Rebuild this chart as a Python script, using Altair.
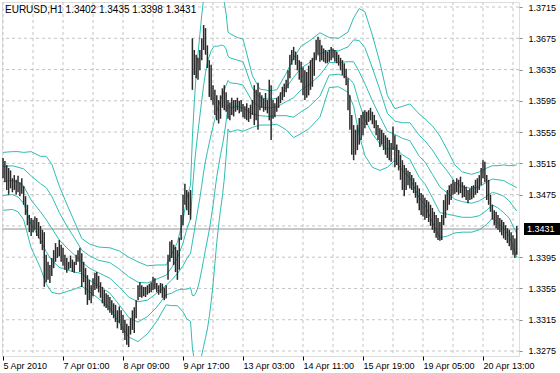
import altair as alt
import pandas as pd

# ---------------- data ----------------
high = [
    1.3522, 1.3518, 1.3513, 1.3509, 1.3506, 1.3496, 1.3500, 1.3494, 1.3499, 1.3491,
    1.3496, 1.3486, 1.3473, 1.3462, 1.3449, 1.3445, 1.3443, 1.3447, 1.3445, 1.3440,
    1.3435, 1.3430, 1.3427, 1.3398, 1.3389, 1.3385, 1.3394, 1.3404, 1.3413, 1.3408,
    1.3417, 1.3411, 1.3407, 1.3398, 1.3394, 1.3389, 1.3397, 1.3392, 1.3389, 1.3398,
    1.3404, 1.3407, 1.3400, 1.3389, 1.3381, 1.3372, 1.3366, 1.3359, 1.3368, 1.3375,
    1.3376, 1.3371, 1.3363, 1.3357, 1.3353, 1.3349, 1.3347, 1.3344, 1.3340, 1.3336,
    1.3334, 1.3327, 1.3332, 1.3327, 1.3321, 1.3315, 1.3310, 1.3307, 1.3317, 1.3327,
    1.3331, 1.3340, 1.3359, 1.3363, 1.3359, 1.3357, 1.3357, 1.3359, 1.3361, 1.3363,
    1.3370, 1.3368, 1.3362, 1.3359, 1.3362, 1.3361, 1.3356, 1.3359, 1.3398, 1.3415,
    1.3417, 1.3411, 1.3408, 1.3404, 1.3420, 1.3449, 1.3475, 1.3489, 1.3481, 1.3478,
    1.3481, 1.3675, 1.3660, 1.3654, 1.3650, 1.3660, 1.3675, 1.3692, 1.3688, 1.3666,
    1.3647, 1.3641, 1.3615, 1.3609, 1.3602, 1.3596, 1.3602, 1.3611, 1.3615, 1.3606,
    1.3596, 1.3593, 1.3599, 1.3596, 1.3596, 1.3599, 1.3595, 1.3596, 1.3591, 1.3588,
    1.3592, 1.3586, 1.3590, 1.3596, 1.3615, 1.3609, 1.3618, 1.3606, 1.3602, 1.3598,
    1.3605, 1.3596, 1.3622, 1.3615, 1.3596, 1.3592, 1.3599, 1.3601, 1.3606, 1.3613,
    1.3617, 1.3622, 1.3634, 1.3654, 1.3660, 1.3664, 1.3658, 1.3654, 1.3647, 1.3645,
    1.3638, 1.3634, 1.3632, 1.3640, 1.3647, 1.3650, 1.3657, 1.3673, 1.3677, 1.3673,
    1.3666, 1.3662, 1.3660, 1.3658, 1.3660, 1.3664, 1.3662, 1.3660, 1.3658, 1.3654,
    1.3650, 1.3647, 1.3643, 1.3636, 1.3624, 1.3602, 1.3577, 1.3564, 1.3558, 1.3564,
    1.3573, 1.3577, 1.3581, 1.3583, 1.3581, 1.3583, 1.3586, 1.3581, 1.3577, 1.3570,
    1.3564, 1.3560, 1.3558, 1.3554, 1.3551, 1.3548, 1.3545, 1.3541, 1.3562, 1.3551,
    1.3539, 1.3532, 1.3526, 1.3519, 1.3513, 1.3509, 1.3506, 1.3504, 1.3500, 1.3496,
    1.3491, 1.3487, 1.3483, 1.3477, 1.3475, 1.3471, 1.3468, 1.3466, 1.3462, 1.3458,
    1.3453, 1.3449, 1.3445, 1.3440, 1.3449, 1.3468, 1.3475, 1.3481, 1.3487, 1.3489,
    1.3494, 1.3491, 1.3496, 1.3494, 1.3498, 1.3491, 1.3487, 1.3485, 1.3481, 1.3483,
    1.3486, 1.3487, 1.3494, 1.3496, 1.3500, 1.3509, 1.3519, 1.3517, 1.3500, 1.3494,
    1.3475, 1.3462, 1.3455, 1.3453, 1.3449, 1.3445, 1.3443, 1.3440, 1.3436, 1.3432,
    1.3430, 1.3427, 1.3423, 1.3419, 1.3435,
]
low = [
    1.3496, 1.3491, 1.3481, 1.3475, 1.3483, 1.3478, 1.3481, 1.3475, 1.3478, 1.3473,
    1.3476, 1.3462, 1.3449, 1.3436, 1.3427, 1.3422, 1.3427, 1.3430, 1.3422, 1.3419,
    1.3412, 1.3404, 1.3357, 1.3363, 1.3366, 1.3362, 1.3371, 1.3381, 1.3389, 1.3394,
    1.3396, 1.3389, 1.3384, 1.3379, 1.3375, 1.3379, 1.3381, 1.3376, 1.3375, 1.3385,
    1.3389, 1.3376, 1.3357, 1.3363, 1.3347, 1.3334, 1.3340, 1.3336, 1.3345, 1.3353,
    1.3355, 1.3350, 1.3343, 1.3336, 1.3332, 1.3330, 1.3327, 1.3324, 1.3321, 1.3317,
    1.3312, 1.3304, 1.3311, 1.3302, 1.3298, 1.3289, 1.3283, 1.3280, 1.3296, 1.3302,
    1.3298, 1.3317, 1.3340, 1.3344, 1.3343, 1.3345, 1.3344, 1.3347, 1.3349, 1.3350,
    1.3353, 1.3354, 1.3350, 1.3347, 1.3349, 1.3343, 1.3340, 1.3342, 1.3366, 1.3389,
    1.3394, 1.3385, 1.3376, 1.3366, 1.3379, 1.3417, 1.3436, 1.3462, 1.3455, 1.3449,
    1.3443, 1.3609, 1.3628, 1.3624, 1.3622, 1.3634, 1.3647, 1.3660, 1.3654, 1.3637,
    1.3600, 1.3596, 1.3590, 1.3577, 1.3570, 1.3566, 1.3572, 1.3586, 1.3583, 1.3581,
    1.3572, 1.3570, 1.3577, 1.3575, 1.3581, 1.3583, 1.3579, 1.3581, 1.3574, 1.3572,
    1.3570, 1.3568, 1.3572, 1.3577, 1.3564, 1.3570, 1.3558, 1.3583, 1.3586, 1.3581,
    1.3583, 1.3579, 1.3570, 1.3545, 1.3572, 1.3574, 1.3581, 1.3586, 1.3592, 1.3596,
    1.3600, 1.3606, 1.3611, 1.3624, 1.3641, 1.3647, 1.3641, 1.3634, 1.3622, 1.3618,
    1.3602, 1.3596, 1.3599, 1.3602, 1.3609, 1.3613, 1.3627, 1.3647, 1.3654, 1.3645,
    1.3647, 1.3645, 1.3643, 1.3643, 1.3645, 1.3647, 1.3650, 1.3645, 1.3643, 1.3640,
    1.3634, 1.3628, 1.3624, 1.3615, 1.3583, 1.3558, 1.3526, 1.3519, 1.3526, 1.3532,
    1.3539, 1.3545, 1.3551, 1.3560, 1.3564, 1.3568, 1.3570, 1.3565, 1.3560, 1.3551,
    1.3545, 1.3536, 1.3539, 1.3532, 1.3526, 1.3522, 1.3519, 1.3517, 1.3532, 1.3510,
    1.3513, 1.3506, 1.3494, 1.3481, 1.3473, 1.3481, 1.3487, 1.3483, 1.3481, 1.3477,
    1.3471, 1.3464, 1.3455, 1.3449, 1.3447, 1.3443, 1.3445, 1.3440, 1.3435, 1.3430,
    1.3426, 1.3420, 1.3417, 1.3416, 1.3417, 1.3436, 1.3445, 1.3455, 1.3462, 1.3468,
    1.3475, 1.3476, 1.3478, 1.3475, 1.3477, 1.3471, 1.3472, 1.3468, 1.3464, 1.3468,
    1.3469, 1.3471, 1.3475, 1.3477, 1.3481, 1.3487, 1.3496, 1.3491, 1.3468, 1.3462,
    1.3453, 1.3443, 1.3436, 1.3432, 1.3430, 1.3427, 1.3423, 1.3419, 1.3417, 1.3413,
    1.3409, 1.3404, 1.3398, 1.3394, 1.3398,
]

band_idx = [
    0, 5, 8, 11, 15, 20, 23, 26, 30, 34, 38, 42, 46, 51, 57, 62, 67, 72, 77, 82,
    87, 90, 93, 96, 98, 100,
    101, 102, 103, 104, 105, 106, 107, 108, 109, 110, 111, 112, 113, 114, 115, 116,
    117, 118, 119, 120, 121,
    125, 128, 133, 137, 142, 146, 151, 155, 159, 163, 169,
    174, 179, 184, 187, 190, 193, 197, 201, 205, 209, 213, 217, 222, 225, 229, 233,
    237, 241, 245, 250, 254, 258, 261, 264, 267, 270, 274,
]
upper2 = [
    1.3529, 1.3530, 1.3530, 1.3529, 1.3530, 1.3524, 1.3524, 1.3514, 1.3486, 1.3463,
    1.3441, 1.3419, 1.3412, 1.3408, 1.3407, 1.3403, 1.3395, 1.3389, 1.3384, 1.3385,
    1.3385, 1.3399, 1.3414, 1.3443, 1.3470, 1.3487,
    1.3548, 1.3593, 1.3628, 1.3655, 1.3680, 1.3705, 1.3726, 1.3744, 1.3757, 1.3763,
    1.3766, 1.3764, 1.3757, 1.3749, 1.3742, 1.3736, 1.3731, 1.3721, 1.3706, 1.3683,
    1.3681,
    1.3676, 1.3674, 1.3627, 1.3610, 1.3608, 1.3609, 1.3630, 1.3650, 1.3665, 1.3671,
    1.3682,
    1.3676, 1.3675, 1.3683, 1.3701, 1.3713, 1.3709, 1.3679, 1.3644, 1.3602, 1.3585,
    1.3588, 1.3591, 1.3578, 1.3572, 1.3563, 1.3550, 1.3532, 1.3513, 1.3504, 1.3501,
    1.3504, 1.3509, 1.3512, 1.3512, 1.3513, 1.3512, 1.3513,
]
upper1 = [
    1.3511, 1.3512, 1.3510, 1.3508, 1.3499, 1.3489, 1.3484, 1.3473, 1.3452, 1.3435,
    1.3420, 1.3404, 1.3397, 1.3391, 1.3388, 1.3380, 1.3370, 1.3363, 1.3362, 1.3367,
    1.3372, 1.3382, 1.3394, 1.3413, 1.3431, 1.3444,
    1.3481, 1.3511, 1.3535, 1.3556, 1.3576, 1.3596, 1.3615, 1.3631, 1.3644, 1.3652,
    1.3659, 1.3663, 1.3665, 1.3665, 1.3665, 1.3666, 1.3666, 1.3665, 1.3661, 1.3652,
    1.3650,
    1.3647, 1.3645, 1.3611, 1.3599, 1.3597, 1.3598, 1.3612, 1.3625, 1.3637, 1.3643,
    1.3655,
    1.3660, 1.3659, 1.3664, 1.3673, 1.3672, 1.3663, 1.3637, 1.3609, 1.3579, 1.3569,
    1.3567, 1.3567, 1.3551, 1.3544, 1.3532, 1.3517, 1.3505, 1.3491, 1.3485, 1.3483,
    1.3485, 1.3491, 1.3495, 1.3494, 1.3493, 1.3489, 1.3484,
]
middle = [
    1.3492, 1.3493, 1.3491, 1.3486, 1.3468, 1.3453, 1.3443, 1.3432, 1.3417, 1.3407,
    1.3398, 1.3389, 1.3381, 1.3375, 1.3368, 1.3357, 1.3344, 1.3338, 1.3340, 1.3349,
    1.3359, 1.3366, 1.3374, 1.3384, 1.3393, 1.3400,
    1.3414, 1.3428, 1.3443, 1.3457, 1.3471, 1.3487, 1.3504, 1.3518, 1.3530, 1.3541,
    1.3552, 1.3562, 1.3572, 1.3582, 1.3589, 1.3596, 1.3602, 1.3608, 1.3615, 1.3621,
    1.3618,
    1.3617, 1.3615, 1.3594, 1.3587, 1.3586, 1.3587, 1.3594, 1.3599, 1.3609, 1.3615,
    1.3628,
    1.3644, 1.3644, 1.3645, 1.3645, 1.3632, 1.3617, 1.3595, 1.3575, 1.3556, 1.3552,
    1.3547, 1.3544, 1.3524, 1.3517, 1.3501, 1.3485, 1.3477, 1.3469, 1.3466, 1.3464,
    1.3467, 1.3473, 1.3478, 1.3476, 1.3473, 1.3467, 1.3454,
]
lower1 = [
    1.3474, 1.3475, 1.3472, 1.3464, 1.3437, 1.3417, 1.3402, 1.3391, 1.3382, 1.3379,
    1.3376, 1.3374, 1.3366, 1.3358, 1.3349, 1.3334, 1.3318, 1.3312, 1.3319, 1.3331,
    1.3347, 1.3349, 1.3353, 1.3354, 1.3354, 1.3356,
    1.3346, 1.3346, 1.3350, 1.3357, 1.3367, 1.3379, 1.3392, 1.3405, 1.3417, 1.3430,
    1.3445, 1.3461, 1.3480, 1.3498, 1.3512, 1.3526, 1.3538, 1.3552, 1.3569, 1.3590,
    1.3586,
    1.3588, 1.3586, 1.3578, 1.3576, 1.3575, 1.3576, 1.3576, 1.3574, 1.3581, 1.3587,
    1.3601,
    1.3628, 1.3629, 1.3625, 1.3617, 1.3592, 1.3571, 1.3553, 1.3540, 1.3533, 1.3535,
    1.3526, 1.3520, 1.3497, 1.3489, 1.3471, 1.3452, 1.3450, 1.3448, 1.3446, 1.3446,
    1.3448, 1.3455, 1.3462, 1.3458, 1.3452, 1.3445, 1.3425,
]
lower2 = [
    1.3455, 1.3456, 1.3453, 1.3443, 1.3407, 1.3381, 1.3361, 1.3350, 1.3348, 1.3351,
    1.3354, 1.3358, 1.3351, 1.3342, 1.3330, 1.3311, 1.3293, 1.3287, 1.3297, 1.3313,
    1.3334, 1.3333, 1.3333, 1.3325, 1.3316, 1.3313,
    1.3279, 1.3263, 1.3258, 1.3258, 1.3262, 1.3270, 1.3281, 1.3292, 1.3303, 1.3319,
    1.3338, 1.3360, 1.3387, 1.3414, 1.3436, 1.3456, 1.3473, 1.3495, 1.3524, 1.3559,
    1.3555,
    1.3558, 1.3556, 1.3561, 1.3564, 1.3564, 1.3565, 1.3558, 1.3548, 1.3553, 1.3559,
    1.3574,
    1.3612, 1.3613, 1.3606, 1.3588, 1.3551, 1.3525, 1.3510, 1.3506, 1.3510, 1.3519,
    1.3506, 1.3496, 1.3471, 1.3462, 1.3440, 1.3420, 1.3422, 1.3426, 1.3427, 1.3427,
    1.3430, 1.3437, 1.3445, 1.3439, 1.3432, 1.3422, 1.3395,
]

tick_idx = [0, 32, 64, 96, 128, 160, 192, 224, 256]
tick_labels = ["5 Apr 2010", "7 Apr 01:00", "8 Apr 09:00", "9 Apr 17:00",
               "13 Apr 03:00", "14 Apr 11:00", "15 Apr 19:00", "19 Apr 05:00",
               "20 Apr 13:00"]
vgrid_idx = [0, 16, 32, 48, 64, 80, 96, 112, 128, 144, 160, 176, 192, 208,
             224, 240, 256, 272]
y_ticks = [1.3275, 1.3315, 1.3355, 1.3395, 1.3475, 1.3515, 1.3555,
           1.3595, 1.3635, 1.3675, 1.3715]
y_grid = [1.3275, 1.3315, 1.3355, 1.3395, 1.3435, 1.3475, 1.3515, 1.3555,
          1.3595, 1.3635, 1.3675, 1.3715]
last_price = 1.3431
header = "EURUSD,H1  1.3402 1.3435 1.3398 1.3431"

# ---------------- tables ----------------
bars = pd.DataFrame({"i": list(range(len(high))), "high": high, "low": low})
band_rows = []
for name, vals in [("u2", upper2), ("u1", upper1), ("m", middle),
                   ("l1", lower1), ("l2", lower2)]:
    for k, v in zip(band_idx, vals):
        band_rows.append({"i": k, "price": v, "band": name})
bands = pd.DataFrame(band_rows)
vgrid = pd.DataFrame({"i": vgrid_idx})
hgrid = pd.DataFrame({"p": y_grid})
lastdf = pd.DataFrame({"p": [last_price], "t": [f"{last_price:.4f}"]})
headdf = pd.DataFrame({"t": [header]})

FONT = "Liberation Sans"
label_map = "{" + ",".join(f"'{k}':'{v}'" for k, v in zip(tick_idx, tick_labels)) + "}"

xscale = alt.Scale(domain=[-0.55, 275.2], nice=False, zero=False)
yscale = alt.Scale(domain=[1.32686, 1.37214], nice=False, zero=False)

xaxis = alt.Axis(values=tick_idx, grid=False, domain=False, ticks=True,
                 tickSize=4, tickColor="#000", labelAlign="left",
                 labelFlush=False, labelOverlap=False, labelBound=False,
                 labelPadding=1, labelFontSize=9, labelFont=FONT,
                 labelColor="#000", labelExpr=label_map + "[datum.value]",
                 title=None)
yaxis = alt.Axis(orient="right", values=y_ticks, format=".4f", grid=False,
                 domain=False, tickSize=3, tickColor="#888", labelPadding=6,
                 labelFontSize=9, labelFont=FONT, labelColor="#000",
                 labelBaseline="middle", title=None)

X = lambda f: alt.X(f, type="quantitative", scale=xscale, axis=xaxis)
Y = lambda f: alt.Y(f, type="quantitative", scale=yscale, axis=yaxis)

vlines = alt.Chart(vgrid).mark_rule(color="#c4c4c4", strokeDash=[3, 3],
                                    strokeWidth=1).encode(x=X("i"))
hlines = alt.Chart(hgrid).mark_rule(color="#c4c4c4", strokeDash=[3, 3],
                                    strokeWidth=1).encode(y=Y("p"))

bidline = alt.Chart(lastdf).mark_rule(color="#c8c8c8", strokeWidth=2).encode(y=Y("p"))

band_lines = alt.Chart(bands).mark_line(color="#2fbdb3", strokeWidth=1,
                                        clip=True).encode(
    x=X("i"), y=Y("price"), detail="band:N", order="i:Q")

bar_rules = alt.Chart(bars).mark_rule(color="#2a2a2a", strokeWidth=1.5,
                                      clip=True).encode(
    x=X("i"), y=Y("low"), y2="high")

head = alt.Chart(headdf).mark_text(align="left", baseline="middle",
                                   fontSize=10, font=FONT, color="#000").encode(
    x=alt.value(3), y=alt.value(8), text="t:N")

pbox = alt.Chart(lastdf).mark_rule(color="#000", strokeWidth=12,
                                   strokeCap="butt").encode(
    x=alt.value(522), x2=alt.value(558), y=Y("p"))
ptext = alt.Chart(lastdf).mark_text(align="left", baseline="middle",
                                    fontSize=9, font=FONT, color="#fff").encode(
    x=alt.value(525), y=Y("p"), text="t:N")

chart = alt.layer(vlines, hlines, bidline, band_lines, bar_rules, head, pbox, ptext).properties(
    width=517, height=354,
    autosize=alt.AutoSizeParams(type="none"),
    padding={"left": 2, "top": 2, "right": 41, "bottom": 17},
).configure_view(stroke="#000", strokeWidth=1).configure(background="#ffffff")

chart.save("out.html", embed_options={"renderer": "svg", "actions": False})
